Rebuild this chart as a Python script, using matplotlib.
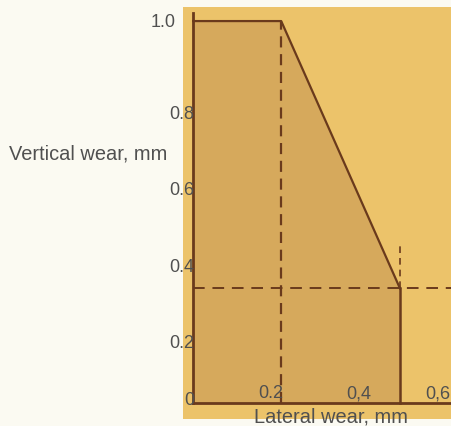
import matplotlib
matplotlib.use("Agg")
from matplotlib import pyplot as plt
from matplotlib.patches import Polygon

# wear limit outline (lateral, vertical) in mm
lateral = [0.0, 0.0, 0.2, 0.47, 0.47]
vertical = [0.0, 1.0, 1.0, 0.30, 0.0]

x_ticks = [0.2, 0.4, 0.6]
x_tick_labels = ["0.2", "0,4", "0,6"]
y_ticks = [0.0, 0.2, 0.4, 0.6, 0.8, 1.0]
y_tick_labels = ["0", "0.2", "0.4", "0.6", "0.8", "1.0"]

plt.rcParams["font.family"] = ["Liberation Sans", "DejaVu Sans"]

line_col = "#6a3a1c"
text_col = "#505050"

fig = plt.figure(figsize=(4.51, 4.27), dpi=100, facecolor="#fbfaf2")
ax = fig.add_axes([0.406, 0.0164, 0.594, 0.965])
ax.set_facecolor("#ecc36a")
ax.set_xlim(-0.023, 0.586)
ax.set_ylim(-0.042, 1.037)
for s in ax.spines.values():
    s.set_visible(False)
ax.set_xticks([])
ax.set_yticks([])

# shaded permissible region
poly = Polygon(list(zip(lateral, vertical)), closed=True, facecolor="#d6a95c",
               edgecolor="none", zorder=1)
ax.add_patch(poly)

# axes lines
ax.plot([0, 0], [0, 1.02], color=line_col, lw=2, zorder=3)
ax.plot([0, 0.586], [0, 0], color=line_col, lw=2, zorder=3)

# outline
ax.plot(lateral[1:4], vertical[1:4], color=line_col, lw=1.6, zorder=3)
ax.plot([lateral[3], lateral[4]], [vertical[3], vertical[4]], color=line_col, lw=1.8, zorder=3)

# dashed guides
ax.plot([lateral[2], lateral[2]], [0, vertical[2]], color=line_col, lw=1.6,
        ls=(0, (5, 3)), zorder=2)
ax.plot([0, 0.586], [vertical[3], vertical[3]], color=line_col, lw=1.4,
        ls=(0, (6, 4)), zorder=2)
ax.plot([lateral[3], lateral[3]], [vertical[3], 0.42], color=line_col, lw=1.2,
        ls=(0, (4, 3)), zorder=2)

# tick labels
for v, lab in zip(x_ticks, x_tick_labels):
    ax.text(min(v + 0.005, 0.585), 0.005, lab, ha="right", va="bottom", fontsize=13,
            color=text_col, zorder=4, clip_on=False)
for v, lab in zip(y_ticks, y_tick_labels):
    if v == 1.0:
        x, y, va = -0.04, v, "center"
    elif v == 0.0:
        x, y, va = 0.002, v + 0.01, "center"
    else:
        x, y, va = 0.002, v - 0.02, "top"
    ax.text(x, y, lab, ha="right", va=va, fontsize=13, color=text_col,
            zorder=4, clip_on=False)

ax.text(0.314, -0.034, "Lateral wear, mm", ha="center", va="center",
        fontsize=14.4, color=text_col, clip_on=False)
fig.text(0.021, 0.639, "Vertical wear, mm", ha="left", va="center",
         fontsize=14.4, color=text_col)

fig.savefig("out.png", dpi=100, facecolor=fig.get_facecolor())
